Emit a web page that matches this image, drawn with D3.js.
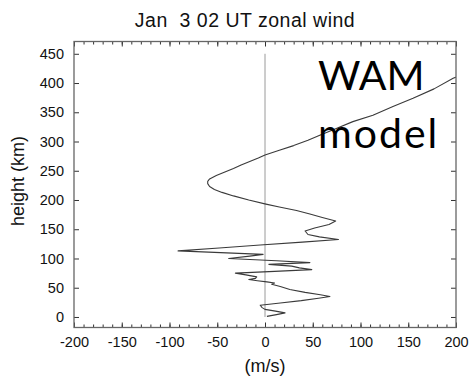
<!DOCTYPE html>
<html>
<head>
<meta charset="utf-8">
<script src="https://cdn.jsdelivr.net/npm/d3@7"></script>
<style>
  html, body { margin: 0; padding: 0; background: #fff; }
  svg { display: block; }
  .tick text { font-family: "Liberation Sans", Arial, Helvetica, sans-serif; font-size: 14.5px; fill: #111; }
</style>
</head>
<body>
<div id="chart"></div>
<script>
// Zonal wind profile: wind speed (m/s) against height (km)
const heights = [1, 4, 7, 10, 13, 16, 20, 24, 28, 32, 35, 38, 42, 47, 52, 56, 58, 60, 62, 64, 66, 68.5, 72, 75,
  78, 81, 84, 87, 90, 93, 96, 100, 104, 107, 113, 118, 123, 128, 132.5, 137, 141, 147, 152, 158, 164,
  170, 176, 182, 188, 193, 200, 207, 213, 218, 223, 228, 232, 236, 242, 248, 254, 260, 266, 272, 277,
  285, 293, 302, 311, 322, 334, 345, 360, 374, 390, 408, 415, 425];
const windSpeeds = [2, 12, 21, 11, 0, -3, -5, 16, 38, 56, 68, 58, 42, 26, 16, 7, 10, 2, -8, -17, -10, -8.7, -20, -31,
  10, 49, 36, 28, 4, 47, 12, -38, -16, -2, -91, -48, -5, 39, 77, 57, 45, 42, 52, 67, 74,
  60, 47, 33, 15, 1, -17, -33, -45, -53, -58, -60, -60, -58, -51, -42, -33, -25, -16, -7, 0,
  15, 30, 45, 58, 74, 92, 113, 134, 155, 177, 197, 207, 221];

const xTicks = [-200, -150, -100, -50, 0, 50, 100, 150, 200];
const yTicks = [0, 50, 100, 150, 200, 250, 300, 350, 400, 450];
const titleText = "Jan  3 02 UT zonal wind";
const xLabel = "(m/s)";
const yLabel = "height (km)";
const noteLines = ["WAM", "model"];

const W = 472, H = 378;
const x = d3.scaleLinear().domain([-200, 200]).range([74, 456]);
const y = d3.scaleLinear().domain([-18, 471]).range([327.5, 41.5]);

const svg = d3.select("#chart").append("svg").attr("width", W).attr("height", H);
const font = '"Liberation Sans", Arial, Helvetica, sans-serif';

// title
svg.append("text").attr("x", 245).attr("y", 26.5)
  .attr("text-anchor", "middle").attr("font-family", font).attr("font-size", 19.5)
  .attr("letter-spacing", 0.5)
  .attr("fill", "#111").style("white-space", "pre").text(titleText);

// zero-wind reference line
svg.append("line")
  .attr("x1", x(0)).attr("x2", x(0)).attr("y1", y(0)).attr("y2", y(450))
  .attr("stroke", "#9a9a9a").attr("stroke-width", 1);

// clip region for the profile
svg.append("clipPath").attr("id", "plot-clip").append("rect")
  .attr("x", 74).attr("y", 41.5).attr("width", 382).attr("height", 286);

const profile = heights.map((h, i) => ({ h, u: windSpeeds[i] }));
const line = d3.line().x(d => x(d.u)).y(d => y(d.h));
svg.append("path").datum(profile)
  .attr("clip-path", "url(#plot-clip)")
  .attr("d", line).attr("fill", "none")
  .attr("stroke", "#3a3a3a").attr("stroke-width", 1.1)
  .attr("stroke-linejoin", "round");

// axes: ticks point inward on all four sides
const minor = d3.range(-200, 201, 10);
const fmt = d => String(d);
function styleAxis(g) {
  g.select(".domain").remove();
  g.selectAll(".tick line").attr("stroke", "#333");
}
svg.append("g").attr("transform", `translate(0,${y.range()[0]})`)
  .call(d3.axisBottom(x).tickValues(minor).tickSize(-3).tickFormat(""))
  .call(styleAxis);
svg.append("g").attr("transform", `translate(0,${y.range()[0]})`)
  .call(d3.axisBottom(x).tickValues(xTicks).tickSize(-5).tickPadding(9).tickFormat(fmt))
  .call(styleAxis);
svg.append("g").attr("transform", `translate(0,${y.range()[1]})`)
  .call(d3.axisTop(x).tickValues(minor).tickSize(-3).tickFormat(""))
  .call(styleAxis);
svg.append("g").attr("transform", `translate(0,${y.range()[1]})`)
  .call(d3.axisTop(x).tickValues(xTicks).tickSize(-5).tickFormat(""))
  .call(styleAxis);
svg.append("g").attr("transform", `translate(${x.range()[0]},0)`)
  .call(d3.axisLeft(y).tickValues(yTicks).tickSize(-5).tickPadding(10).tickFormat(fmt))
  .call(styleAxis);
svg.append("g").attr("transform", `translate(${x.range()[1]},0)`)
  .call(d3.axisRight(y).tickValues(yTicks).tickSize(-5).tickFormat(""))
  .call(styleAxis);

// frame
svg.append("rect").attr("x", 74).attr("y", 41.5).attr("width", 382).attr("height", 286)
  .attr("fill", "none").attr("stroke", "#666").attr("stroke-width", 1.3);

// axis titles
svg.append("text").attr("x", 265).attr("y", 372).attr("text-anchor", "middle")
  .attr("font-family", font).attr("font-size", 18).attr("fill", "#111").text(xLabel);
svg.append("text").attr("transform", "translate(24,181) rotate(-90)").attr("text-anchor", "middle")
  .attr("font-family", font).attr("font-size", 18).attr("fill", "#111").text(yLabel);

// annotation
const note = svg.append("text").attr("font-family", "Lato, 'Open Sans', sans-serif")
  .attr("font-size", 41).attr("fill", "#000");
note.append("tspan").attr("x", 318).attr("y", 90).text(noteLines[0]);
note.append("tspan").attr("x", 318).attr("y", 148).attr("letter-spacing", 2).text(noteLines[1]);
</script>
</body>
</html>
